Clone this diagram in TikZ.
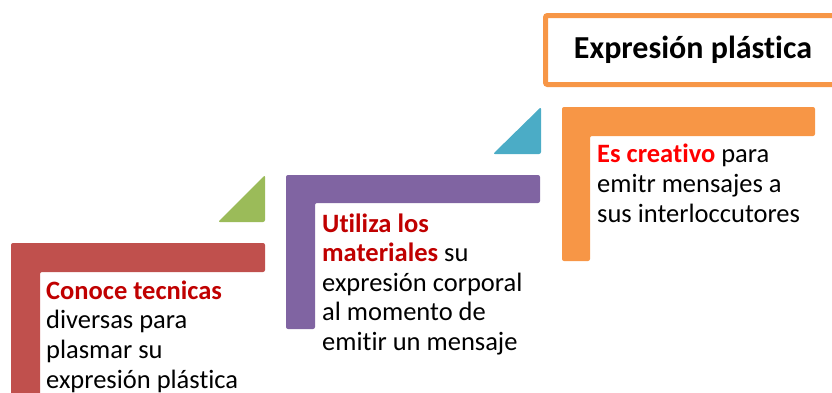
\documentclass[tikz,border=0pt]{standalone}
\usepackage{fontspec}
\setmainfont[Ligatures={NoCommon}]{Carlito}
\definecolor{cred}{HTML}{C0504D}
\definecolor{cgreen}{HTML}{9BBB59}
\definecolor{cpurple}{HTML}{8064A2}
\definecolor{cblue}{HTML}{4BACC6}
\definecolor{corange}{HTML}{F79646}
\definecolor{tdark}{HTML}{C00000}
\definecolor{tbright}{HTML}{FF0000}
\begin{document}
\begin{tikzpicture}[x=1pt,y=-1pt,
  lshape/.style={rounded corners=2pt},
  tri/.style={rounded corners=2pt},
  body/.style={anchor=base west, inner sep=0pt, align=left,
    font=\fontsize{26.5pt}{29.6pt}\selectfont, text=black}]
\useasboundingbox (0,0) rectangle (832,392);
\clip (0,0) rectangle (832,392);
% step 1 (red)
\fill[cred,lshape] (11,243) -- (265,243) -- (265,272) -- (40,272) -- (40,400) -- (11,400) -- cycle;
\fill[cgreen,tri] (265,175) -- (265,222) -- (218,222) -- cycle;
\node[body] (t1) at (46,388) {\textbf{\color{tdark}Conoce tecnicas}\\diversas para\\plasmar su\\expresión plástica};
% step 2 (purple)
\fill[cpurple,lshape] (286,175) -- (540,175) -- (540,203) -- (315,203) -- (315,329) -- (286,329) -- cycle;
\fill[cblue,tri] (541,107) -- (541,154) -- (493,154) -- cycle;
\node[body] (t2) at (322,350.5) {\textbf{\color{tdark}Utiliza los}\\\textbf{\color{tdark}materiales} su\\expresión corporal\\al momento de\\emitir un mensaje};
% step 3 (orange)
\fill[corange,lshape] (562,107) -- (815,107) -- (815,136) -- (590,136) -- (590,261) -- (562,261) -- cycle;
\node[body] (t3) at (597,222) {\textbf{\color{tbright}Es creativo} para\\emitr mensajes a\\sus interloccutores};
% title
\draw[corange,line width=5pt,rounded corners=2pt] (545.5,15.5) rectangle (850,84.5);
\node[anchor=base, inner sep=0pt, font=\fontsize{32pt}{36pt}\selectfont\bfseries] (title) at (693,58) {Expresión plástica};
\end{tikzpicture}
\end{document}
